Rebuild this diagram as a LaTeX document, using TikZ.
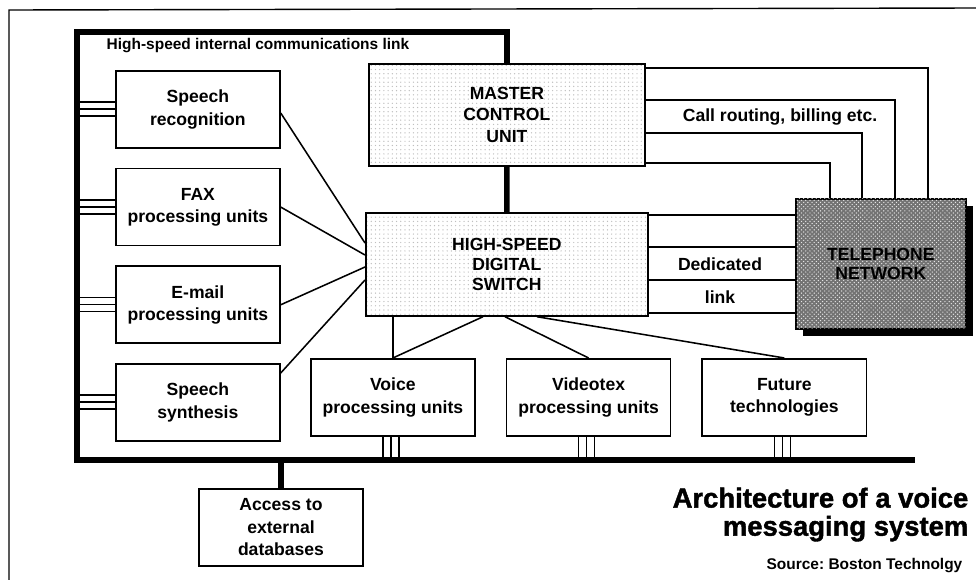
\documentclass[tikz,border=0pt]{standalone}
\usepackage{fontspec}
\setmainfont{Liberation Sans}
\newfontfamily\headfont[FakeBold=1.5]{Liberation Sans Bold}
\usepackage{tikz}
\usetikzlibrary{calc,positioning,patterns,shadows}
\tikzstyle{voice messaging}=[
    x=0.025cm, y=-0.025cm, line join=miter,
    node distance=0.475cm and 0.75cm,
    every node/.style={
        align=center, inner sep=1pt,
        font=\fontsize{12.5}{16}\selectfont\bfseries,
}]
\tikzstyle{unit}=[draw, line width=1.2pt, minimum width=4.1cm, minimum height=1.925cm]
\tikzstyle{stipple}=[draw, line width=1.2pt, pattern=dots, pattern color=black!25,
    font=\fontsize{12.5}{15}\selectfont\bfseries]
\tikzstyle{network}=[draw, line width=1.2pt, fill=black!55,
    postaction={pattern=crosshatch dots, pattern color=black!10},
    drop shadow={shadow xshift=5pt, shadow yshift=-5pt, fill=black, opacity=1},
    minimum width=4.25cm, minimum height=3.25cm,
    font=\fontsize{12.5}{14}\selectfont\bfseries]
\tikzstyle{wire}=[line width=1.1pt]
\tikzstyle{bus}=[line width=4pt]
\tikzstyle{tap}=[line width=1.2pt]

\begin{document}
\begin{tikzpicture}[voice messaging]
        \useasboundingbox (0,0) rectangle (976,580);
        \draw[line width=1pt] (9,580) -- (9,10) -- (976,8);

        \node[unit, anchor=north west] (speech) at (115,70) {Speech\\recognition};
        \node[unit, below=of speech] (fax) {FAX\\processing units};
        \node[unit, below=of fax] (email) {E-mail\\processing units};
        \node[unit, below=of email] (synth) {Speech\\synthesis};
        \node[unit, anchor=north west] (voice) at (310,358) {Voice\\processing units};
        \node[unit, right=of voice] (videotex) {Videotex\\processing units};
        \node[unit, right=of videotex] (future) {Future\\technologies};
        \node[unit, anchor=north] (access) at (281,488) {Access to\\external\\databases};
        \node[stipple, anchor=north west, minimum width=6.9cm, minimum height=2.55cm] (master) at (368,63) {MASTER\\CONTROL\\UNIT};
        \node[stipple, anchor=north west, minimum width=7.05cm, minimum height=2.575cm,
            font=\fontsize{12.5}{14}\selectfont\bfseries] (switch) at (365,212) {HIGH-SPEED\\DIGITAL\\SWITCH};
        \node[network, anchor=north west] (tel) at (795,198) {TELEPHONE\\NETWORK};

        \node[anchor=west, font=\fontsize{11}{12}\selectfont\bfseries] (linklabel) at (105,46) {High-speed internal communications link};
        \node (routing) at (780,117) {Call routing, billing etc.};
        \node (dedicated) at (720,264) {Dedicated};
        \node (link) at (720,297) {link};

        \coordinate (busL) at (77,32);
        \coordinate (busB) at (77,460);
        \coordinate (busE) at (915,460);
        \draw[bus] (master.north) |- (busL) -- (busB) -- (busE);
        \draw[bus] (master) -- (switch);
        \draw[bus] (access) -- (access |- busB);

        \foreach \n in {speech,fax,email,synth}
            \foreach \d in {32,39,46}
                \draw[tap] ($(\n.north west)+(0,\d)$) coordinate (t) -- (t -| busL);
        \foreach \n in {voice,videotex,future}
            \foreach \d in {-10,-2,6}
                \draw[tap] ($(\n.south)+(\d,0)$) coordinate (t) -- (t |- busB);

        \foreach \y/\x in {68/928,100/895,133/862,163/830}
            \draw[wire] (master.east |- 0,\y) -| (tel.north -| \x,0);
        \foreach \y in {215,247,280,313}
            \draw[wire] (switch.east |- 0,\y) -- (tel.west |- 0,\y);

        \draw[wire] (speech.east |- 0,113) -- (switch.west |- 0,243);
        \draw[wire] (fax.east) -- (switch.west |- 0,255);
        \draw[wire] (email.east) -- (switch.west |- 0,267);
        \draw[wire] (synth.east |- 0,373) -- (switch.west |- 0,280);
        \draw[wire] (voice.north |- switch.south) -- (voice.north);
        \draw[wire] (switch.south -| 483,0) -- (voice.north);
        \draw[wire] (switch.south -| 505,0) -- (videotex.north);
        \draw[wire] (switch.south -| 537,0) -- (future.north);

        \node[anchor=north east, align=right, font=\headfont\fontsize{19.5}{20}\selectfont] (title) at (970,486) {Architecture of a voice\\messaging system};
        \node[anchor=east, font=\fontsize{11}{12}\selectfont\bfseries] (source) at (964,566) {Source:\ Boston Technolgy};
    \end{tikzpicture}
\end{document}
